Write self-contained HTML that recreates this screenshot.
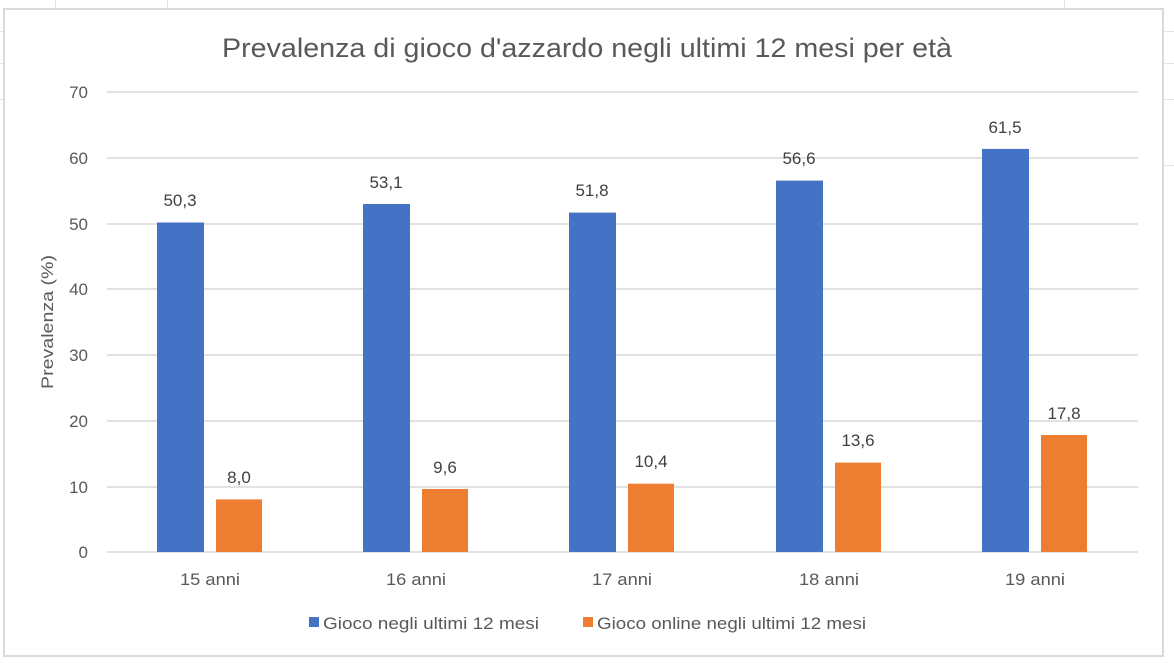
<!DOCTYPE html>
<html><head><meta charset="utf-8"><style>
body{margin:0;background:#fff;}
svg text{font-family:"Liberation Sans",sans-serif;fill:#595959;}
</style></head><body>
<svg width="1174" height="658" xmlns="http://www.w3.org/2000/svg">
<g stroke="#e3e3e3" stroke-width="1">
<line x1="55.5" y1="0" x2="55.5" y2="9"/><line x1="167.5" y1="0" x2="167.5" y2="9"/><line x1="1064.5" y1="0" x2="1064.5" y2="9"/>
<line x1="0" y1="31.5" x2="4" y2="31.5"/><line x1="0" y1="63.5" x2="4" y2="63.5"/><line x1="0" y1="99.5" x2="4" y2="99.5"/>
<line x1="1163" y1="31.5" x2="1174" y2="31.5"/><line x1="1163" y1="63.5" x2="1174" y2="63.5"/><line x1="1163" y1="99.5" x2="1174" y2="99.5"/><line x1="1163" y1="165.5" x2="1174" y2="165.5"/>
</g>
<rect x="4" y="9" width="1159" height="647" fill="#fff" stroke="#d9d9d9" stroke-width="2"/>
<text x="222" y="57" font-size="27" textLength="730" lengthAdjust="spacingAndGlyphs">Prevalenza di gioco d'azzardo negli ultimi 12 mesi per età</text>
<g stroke="#d9d9d9" stroke-width="1.5">
<line x1="107" y1="92" x2="1138" y2="92"/><line x1="107" y1="158" x2="1138" y2="158"/><line x1="107" y1="224" x2="1138" y2="224"/><line x1="107" y1="289" x2="1138" y2="289"/><line x1="107" y1="355" x2="1138" y2="355"/><line x1="107" y1="421" x2="1138" y2="421"/><line x1="107" y1="487" x2="1138" y2="487"/><line x1="107" y1="552" x2="1138" y2="552"/>
</g>
<g font-size="17" text-anchor="end">
<text x="88" y="98">70</text><text x="88" y="164">60</text><text x="88" y="230">50</text><text x="88" y="295">40</text><text x="88" y="361">30</text><text x="88" y="427">20</text><text x="88" y="493">10</text><text x="88" y="558">0</text>
</g>
<text transform="translate(53,322) rotate(-90)" font-size="17" text-anchor="middle" textLength="134" lengthAdjust="spacingAndGlyphs">Prevalenza (%)</text>
<g fill="#4472c4">
<rect x="157" y="222.5" width="47" height="329.5"/>
<rect x="363" y="204" width="47" height="348"/>
<rect x="569" y="212.6" width="47" height="339.4"/>
<rect x="776" y="180.6" width="47" height="371.4"/>
<rect x="982" y="148.9" width="47" height="403.1"/>
</g>
<g fill="#ed7d31">
<rect x="216" y="499.4" width="46" height="52.6"/>
<rect x="422" y="489" width="46" height="63"/>
<rect x="628" y="483.7" width="46" height="68.3"/>
<rect x="835" y="462.6" width="46" height="89.4"/>
<rect x="1041" y="435" width="46" height="117"/>
</g>
<g font-size="17" text-anchor="middle">
<text x="180" y="206" style="fill:#404040">50,3</text>
<text x="386" y="188" style="fill:#404040">53,1</text>
<text x="592" y="196" style="fill:#404040">51,8</text>
<text x="799" y="164" style="fill:#404040">56,6</text>
<text x="1005" y="133" style="fill:#404040">61,5</text>
<text x="239" y="483" style="fill:#404040">8,0</text>
<text x="445" y="473" style="fill:#404040">9,6</text>
<text x="651" y="467" style="fill:#404040">10,4</text>
<text x="858" y="446" style="fill:#404040">13,6</text>
<text x="1064" y="419" style="fill:#404040">17,8</text>
</g>
<g font-size="17">
<text x="180" y="585" textLength="60" lengthAdjust="spacingAndGlyphs">15 anni</text>
<text x="386" y="585" textLength="60" lengthAdjust="spacingAndGlyphs">16 anni</text>
<text x="592" y="585" textLength="60" lengthAdjust="spacingAndGlyphs">17 anni</text>
<text x="799" y="585" textLength="60" lengthAdjust="spacingAndGlyphs">18 anni</text>
<text x="1005" y="585" textLength="60" lengthAdjust="spacingAndGlyphs">19 anni</text>
</g>
<rect x="309" y="617" width="10" height="10" fill="#4472c4"/>
<text x="323" y="629" font-size="17" textLength="216" lengthAdjust="spacingAndGlyphs">Gioco negli ultimi 12 mesi</text>
<rect x="583" y="617" width="10" height="10" fill="#ed7d31"/>
<text x="597" y="629" font-size="17" textLength="269" lengthAdjust="spacingAndGlyphs">Gioco online negli ultimi 12 mesi</text>
</svg>
</body></html>
